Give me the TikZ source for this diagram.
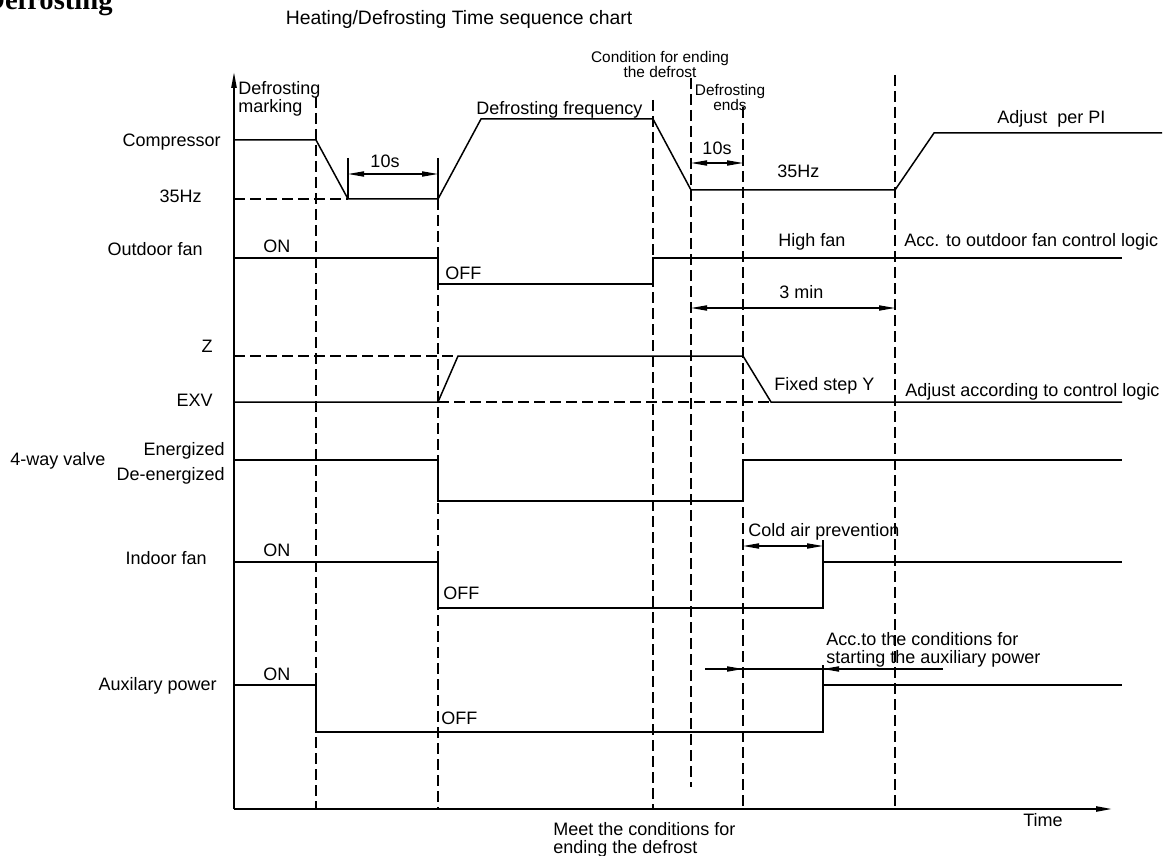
\documentclass[tikz,border=0pt]{standalone}
\usepackage{fontspec}
\setmainfont{Liberation Sans}
\newfontfamily\headfont{Liberation Serif}
\usetikzlibrary{arrows.meta}

\begin{document}
\begin{tikzpicture}[x=0.5pt, y=-0.5pt,
		sig/.style={line width=0.75pt},
		guide/.style={line width=0.65pt, dash pattern=on 5.5pt off 2.5pt},
		tip/.style={line width=0.6pt, -{Triangle[length=8pt,width=2.6pt]}},
		dimarrow/.style={line width=0.6pt, {Triangle[length=8pt,width=2.6pt]}-{Triangle[length=8pt,width=2.6pt]}},
		lbl/.style={font=\fontsize{9}{10.8}\selectfont, inner sep=0pt},
		smalllbl/.style={font=\fontsize{7.7}{9}\selectfont, inner sep=0pt}]

		\useasboundingbox (0,0) rectangle (1163,856);

		% time marks along the t-axis (pixels)
		\def\tA{316}  % defrosting marking
		\def\tB{438}  % compressor back up
		\def\tC{653}  % condition for ending
		\def\tD{691}  % defrosting ends
		\def\tE{743}  % 4-way valve back
		\def\tF{823}  % cold air prevention over
		\def\tG{895}  % 3 min over
		\def\tend{1122}

		% Headings
		\node[font=\headfont\bfseries\fontsize{14.3}{15}\selectfont, inner sep=0pt, anchor=base west] (head) at (-16,9.5) {Defrosting};
		\node[font=\fontsize{9.7}{11}\selectfont, inner sep=0pt, anchor=base] (title) at (459,25) {Heating/Defrosting Time sequence chart};

		% Axes
		\draw[tip, line width=0.9pt] (234,809) -- (234,72);
		\draw[tip, line width=0.9pt] (234,809) -- (1112,809);
		\node[lbl, anchor=base west] (time) at (1023,826) {Time};

		% dashed time marks: x / top / bottom
		\foreach \x/\ytop/\ybot in {\tA/97/809, \tB/199/809, \tC/100/809, \tD/78/787, \tE/107/809, \tG/75/809}
			\draw[guide] (\x,\ytop) -- (\x,\ybot);

		% Compressor
		\draw[sig] (234,140) -- (\tA,140) -- (348,199) -- (\tB,199) -- (481,119) -- (\tC,119)
			-- (\tD,190) -- (\tG,190) -- (934,133) -- (1162,133);
		\draw[guide] (234,199) -- (348,199);
		\draw[sig] (348,158) -- (348,199) (\tB,158) -- (\tB,199);
		\draw[dimarrow] (348,174) -- (\tB,174);
		\draw[dimarrow] (\tD,163) -- (\tE,163);

		% Outdoor fan
		\draw[sig] (234,258) -- (\tB,258) -- (\tB,284) -- (\tC,284) -- (\tC,258) -- (\tend,258);
		\draw[dimarrow] (\tD,308) -- (\tG,308);

		% EXV
		\draw[sig] (234,402) -- (\tB,402) -- (458,356) -- (\tE,356) -- (771,402) -- (\tend,402);
		\draw[guide] (234,356) -- (458,356);
		\draw[guide] (\tB,402) -- (771,402);

		% 4-way valve
		\draw[sig] (234,460) -- (\tB,460) -- (\tB,501) -- (\tE,501) -- (\tE,460) -- (\tend,460);

		% Indoor fan
		\draw[sig] (234,562) -- (\tB,562) -- (\tB,608) -- (\tF,608) -- (\tF,562) -- (\tend,562);
		\draw[sig] (\tF,562) -- (\tF,540);
		\draw[dimarrow] (\tE,546) -- (\tF,546);

		% Auxiliary power
		\draw[sig] (234,685) -- (\tA,685) -- (\tA,732) -- (\tF,732) -- (\tF,685) -- (\tend,685);
		\draw[sig] (\tF,685) -- (\tF,665);
		\draw[line width=0.6pt] (705,669) -- (943,669);
		\draw[tip] (705,669) -- (\tE,669);
		\draw[tip] (943,669) -- (\tF,669);

		% signal names
		\node[lbl, anchor=base east] (comp) at (221,147) {Compressor};
		\node[lbl, anchor=base east] (hz) at (202,203) {35Hz};
		\node[lbl, anchor=base east] (ofan) at (203,256) {Outdoor fan};
		\node[lbl, anchor=base east] (z) at (213,352) {Z};
		\node[lbl, anchor=base east] (exv) at (213,406) {EXV};
		\node[lbl, anchor=base west] (valve) at (10,465) {4-way valve};
		\node[lbl, anchor=base east] (ener) at (225,455) {Energized};
		\node[lbl, anchor=base east] (deener) at (225,480) {De-energized};
		\node[lbl, anchor=base east] (ifan) at (207,564) {Indoor fan};
		\node[lbl, anchor=base east] (aux) at (217,690) {Auxilary power};

		% states
		\node[lbl, anchor=base west] (on1) at (263,252) {ON};
		\node[lbl, anchor=base west] (on2) at (263,556) {ON};
		\node[lbl, anchor=base west] (on3) at (263,680) {ON};
		\node[lbl, anchor=base west] (off1) at (445,279) {OFF};
		\node[lbl, anchor=base west] (off2) at (443,599) {OFF};
		\node[lbl, anchor=base west] (off3) at (441,724) {OFF};

		% notes on the chart
		\node[lbl, anchor=base west] (mark1) at (238,95) {Defrosting};
		\node[lbl, anchor=base west] (mark2) at (238,113) {marking};
		\node[lbl, anchor=base west] (dfreq) at (476,115) {Defrosting frequency};
		\node[smalllbl, anchor=base] (cond1) at (660,63) {Condition for ending};
		\node[smalllbl, anchor=base] (cond2) at (660,78) {the defrost};
		\node[smalllbl, anchor=base] (ends1) at (730,96) {Defrosting};
		\node[smalllbl, anchor=base] (ends2) at (730,111) {ends};
		\node[lbl, anchor=base] (ten1) at (385,168) {10s};
		\node[lbl, anchor=base] (ten2) at (717,155) {10s};
		\node[lbl, anchor=base west] (hz2) at (777,177) {35Hz};
		\node[lbl, anchor=base west] (pi) at (997,124) {Adjust\ \ per PI};
		\node[lbl, anchor=base west] (high) at (778,247) {High fan};
		\node[lbl, anchor=base west] (acc) at (904,247) {Acc. to outdoor fan control logic};
		\node[lbl, anchor=base west] (min) at (779,299) {3 min};
		\node[lbl, anchor=base west] (stepy) at (774,390) {Fixed step Y};
		\node[lbl, anchor=base west] (adj) at (905,396) {Adjust according to control logic};
		\node[lbl, anchor=base west] (cold) at (748,536) {Cold air prevention};
		\node[lbl, anchor=base west] (start1) at (826,645) {Acc.to the conditions for};
		\node[lbl, anchor=base west] (start2) at (826,663) {starting the auxiliary power};
		\node[lbl, anchor=base west] (meet1) at (553,835) {Meet the conditions for};
		\node[lbl, anchor=base west] (meet2) at (553,853) {ending the defrost};

	\end{tikzpicture}
\end{document}
